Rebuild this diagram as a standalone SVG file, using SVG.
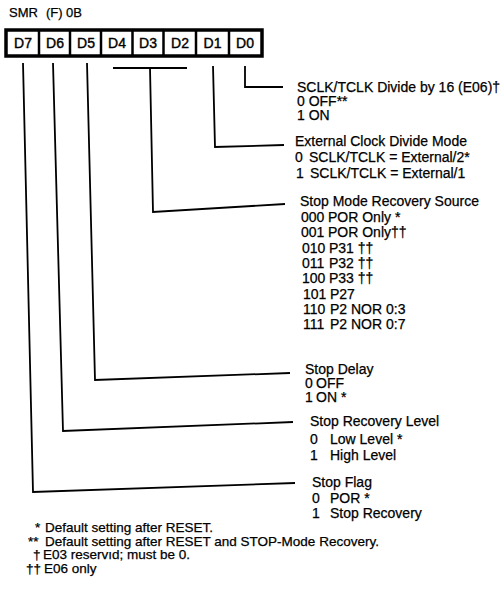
<svg xmlns="http://www.w3.org/2000/svg" width="503" height="597" viewBox="0 0 503 597">
<style>
text{font-family:"Liberation Sans",Arial,Helvetica,sans-serif;font-size:14px;fill:#000;stroke:#000;stroke-width:0.25}
.ttl{font-size:13px}
.cell{text-anchor:middle;stroke-width:0.4}
.fn{font-size:13.5px}
.ln{fill:none;stroke:#000;stroke-width:1.8}
.frame{fill:#fff;stroke:#000;stroke-width:3.5}
.div{stroke:#000;stroke-width:2.5}
</style>
<rect width="503" height="597" fill="#fff"/>
<g id="title"><text class="ttl" x="9" y="17">SMR<tspan x="46">(F)</tspan><tspan x="66">0B</tspan></text></g>
<g id="register">
<rect class="frame" x="6" y="30" width="256" height="26"/>
<line class="div" x1="39" y1="30" x2="39" y2="56"/>
<line class="div" x1="70" y1="30" x2="70" y2="56"/>
<line class="div" x1="101" y1="30" x2="101" y2="56"/>
<line class="div" x1="132.5" y1="30" x2="132.5" y2="56"/>
<line class="div" x1="163.5" y1="30" x2="163.5" y2="56"/>
<line class="div" x1="196" y1="30" x2="196" y2="56"/>
<line class="div" x1="229" y1="30" x2="229" y2="56"/>
<text class="cell" x="23" y="48">D7</text>
<text class="cell" x="55" y="48">D6</text>
<text class="cell" x="86" y="48">D5</text>
<text class="cell" x="117" y="48">D4</text>
<text class="cell" x="148" y="48">D3</text>
<text class="cell" x="180" y="48">D2</text>
<text class="cell" x="212.5" y="48">D1</text>
<text class="cell" x="245" y="48">D0</text>
</g>
<g id="connectors">
<path class="ln" d="M245,66 V87 H283"/>
<path class="ln" d="M213,66 L215,147 L284,145"/>
<path class="ln" d="M113,68 H187"/>
<path class="ln" d="M150,68 L153,212 L285,204"/>
<path class="ln" d="M87,63 L95,380 L290,373"/>
<path class="ln" d="M53,63 L63,431 L293,422"/>
<path class="ln" d="M23,63 L33,492 L295,483"/>
</g>
<g id="d0-field">
<text x="297" y="92">SCLK/TCLK Divide by 16 (E06)†</text>
<text x="297" y="106">0 OFF**</text>
<text x="297" y="120">1 ON</text>
</g>
<g id="d1-field">
<text x="295" y="146">External Clock Divide Mode</text>
<text x="295" y="162">0<tspan x="309">SCLK/TCLK = External/2*</tspan></text>
<text x="296" y="178">1<tspan x="310">SCLK/TCLK = External/1</tspan></text>
</g>
<g id="d432-field">
<text x="300" y="206">Stop Mode Recovery Source</text>
<text x="301" y="222">000<tspan x="328">POR Only *</tspan></text>
<text x="301" y="237">001<tspan x="328">POR Only††</tspan></text>
<text x="302" y="253">010<tspan x="329">P31 ††</tspan></text>
<text x="302" y="268">011<tspan x="329">P32 ††</tspan></text>
<text x="302" y="283">100<tspan x="329">P33 ††</tspan></text>
<text x="303" y="299">101<tspan x="330">P27</tspan></text>
<text x="303" y="314">110<tspan x="330">P2 NOR 0:3</tspan></text>
<text x="303" y="329">111<tspan x="330">P2 NOR 0:7</tspan></text>
</g>
<g id="d5-field">
<text x="305" y="374">Stop Delay</text>
<text x="305" y="388">0<tspan x="316">OFF</tspan></text>
<text x="305" y="402">1<tspan x="316">ON *</tspan></text>
</g>
<g id="d6-field">
<text x="310" y="426">Stop Recovery Level</text>
<text x="310" y="444">0<tspan x="330">Low Level *</tspan></text>
<text x="310" y="460">1<tspan x="330">High Level</tspan></text>
</g>
<g id="d7-field">
<text x="312" y="487">Stop Flag</text>
<text x="312" y="503">0<tspan x="330">POR *</tspan></text>
<text x="312" y="518">1<tspan x="330">Stop Recovery</tspan></text>
</g>
<g id="footnotes">
<text class="fn" x="35" y="532">*<tspan x="45">Default setting after RESET.</tspan></text>
<text class="fn" x="28" y="546">**<tspan x="45">Default setting after RESET and STOP-Mode Recovery.</tspan></text>
<text class="fn" x="33" y="559">†<tspan x="43">E03 reservıd; must be 0.</tspan></text>
<text class="fn" x="26" y="573">††<tspan x="44">E06 only</tspan></text>
</g>
</svg>
